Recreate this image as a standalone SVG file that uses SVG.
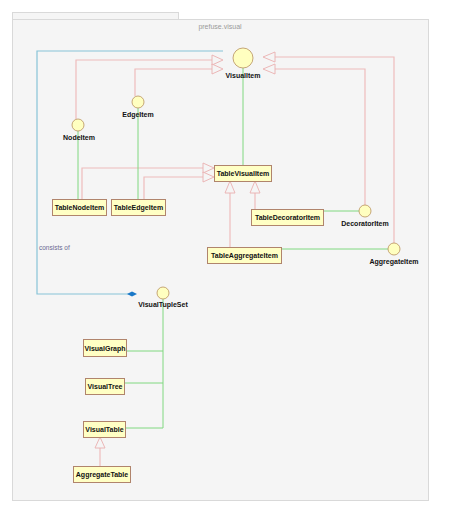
<svg xmlns="http://www.w3.org/2000/svg" width="457" height="512" viewBox="0 0 457 512">
<defs>
<style>
.pkg{fill:#f5f5f5;stroke:#d9d9d9;stroke-width:1}
.box rect{fill:#ffffc4;stroke:#b0846c;stroke-width:1}
.box text,.lbl{font-family:"Liberation Sans",Arial,sans-serif;font-size:7px;font-weight:bold;fill:#111;text-anchor:middle}
.ifc circle{fill:#ffffc0;stroke:#b8905c;stroke-width:0.8}
.gen{fill:none;stroke:#eebcbc;stroke-width:1.2}
.tri{fill:#f5f5f5;stroke:#eab0b0;stroke-width:0.9}
.real{fill:none;stroke:#80d880;stroke-width:1}
.assoc{fill:none;stroke:#88c4d8;stroke-width:1.2}
</style>
</defs>
<rect x="0" y="0" width="457" height="512" fill="#ffffff"/>
<g id="package">
<rect class="pkg" x="12.5" y="12.5" width="166" height="8"/>
<rect class="pkg" x="12.5" y="19.5" width="416" height="481"/>
<text x="220" y="29" font-family="Liberation Sans,Arial,sans-serif" font-size="7" fill="#9a9a9a" text-anchor="middle">prefuse.visual</text>
</g>
<g id="connectors">
<!-- association consists of -->
<polyline class="assoc" points="223,51 37,51 37,294 130,294"/>
<polygon points="127,294 132,291.5 137,294 132,296.5" fill="#1a78c8"/>
<text x="39" y="250" font-family="Liberation Sans,Arial,sans-serif" font-size="6.5" fill="#6a6a92">consists of</text>
<!-- generalizations to VisualItem -->
<polyline class="gen" points="76,119 76,60 212,60"/>
<polyline class="gen" points="135,96 135,69 212,69"/>
<polyline class="gen" points="394,243 394,57 275,57"/>
<polyline class="gen" points="365,205 365,69 275,69"/>
<polygon class="tri" points="223,60 212,55 212,65"/>
<polygon class="tri" points="223,69 212,64 212,74"/>
<polygon class="tri" points="263,57 275,52 275,62"/>
<polygon class="tri" points="263,69 275,64 275,74"/>
<!-- generalizations to TableVisualItem -->
<polyline class="gen" points="82,199 82,168 203,168"/>
<polyline class="gen" points="144,199 144,177 203,177"/>
<polygon class="tri" points="214,168 203,163 203,173"/>
<polygon class="tri" points="214,177 203,172 203,182"/>
<line class="gen" x1="255" y1="209" x2="255" y2="193"/>
<polygon class="tri" points="255,181 250,193 260,193"/>
<line class="gen" x1="230" y1="247" x2="230" y2="193"/>
<polygon class="tri" points="230,181 225,193 235,193"/>
<!-- AggregateTable -> VisualTable -->
<line class="gen" x1="100" y1="466" x2="100" y2="448"/>
<polygon class="tri" points="100,437 95,448 105,448"/>
<!-- realizations -->
<line class="real" x1="243" y1="68" x2="243" y2="165"/>
<line class="real" x1="78" y1="131" x2="78" y2="199"/>
<line class="real" x1="138" y1="108" x2="138" y2="199"/>
<line class="real" x1="323" y1="211" x2="359" y2="211"/>
<line class="real" x1="281" y1="249" x2="388" y2="249"/>
<polyline class="real" points="163,299 163,428 125,428"/>
<line class="real" x1="126" y1="351" x2="163" y2="351"/>
<line class="real" x1="124" y1="383" x2="163" y2="383"/>
</g>
<g id="VisualItem" class="ifc"><circle cx="243" cy="58" r="10"/><text class="lbl" x="243" y="78">VisualItem</text></g>
<g id="NodeItem" class="ifc"><circle cx="78" cy="125" r="6"/><text class="lbl" x="79" y="140">NodeItem</text></g>
<g id="EdgeItem" class="ifc"><circle cx="138" cy="102" r="6"/><text class="lbl" x="138" y="117">EdgeItem</text></g>
<g id="DecoratorItem" class="ifc"><circle cx="365" cy="211" r="6"/><text class="lbl" x="365" y="226">DecoratorItem</text></g>
<g id="AggregateItem" class="ifc"><circle cx="394" cy="249" r="6"/><text class="lbl" x="394" y="264">AggregateItem</text></g>
<g id="VisualTupleSet" class="ifc"><circle cx="163" cy="293" r="6"/><text class="lbl" x="163" y="307">VisualTupleSet</text></g>
<g id="TableVisualItem" class="box"><rect x="214.5" y="165.5" width="57" height="16"/><text x="243" y="176">TableVisualItem</text></g>
<g id="TableNodeItem" class="box"><rect x="52.5" y="199.5" width="54" height="16"/><text x="79.5" y="210">TableNodeItem</text></g>
<g id="TableEdgeItem" class="box"><rect x="111.5" y="199.5" width="54" height="16"/><text x="138.5" y="210">TableEdgeItem</text></g>
<g id="TableDecoratorItem" class="box"><rect x="251.5" y="209.5" width="72" height="16"/><text x="287.5" y="220">TableDecoratorItem</text></g>
<g id="TableAggregateItem" class="box"><rect x="207.5" y="247.5" width="74" height="16"/><text x="244.5" y="258">TableAggregateItem</text></g>
<g id="VisualGraph" class="box"><rect x="83.5" y="339.5" width="43" height="17"/><text x="105" y="350.5">VisualGraph</text></g>
<g id="VisualTree" class="box"><rect x="85.5" y="378.5" width="39" height="16"/><text x="105" y="389">VisualTree</text></g>
<g id="VisualTable" class="box"><rect x="83.5" y="421.5" width="42" height="16"/><text x="104.5" y="432">VisualTable</text></g>
<g id="AggregateTable" class="box"><rect x="73.5" y="466.5" width="57" height="16"/><text x="102" y="477">AggregateTable</text></g>
</svg>
